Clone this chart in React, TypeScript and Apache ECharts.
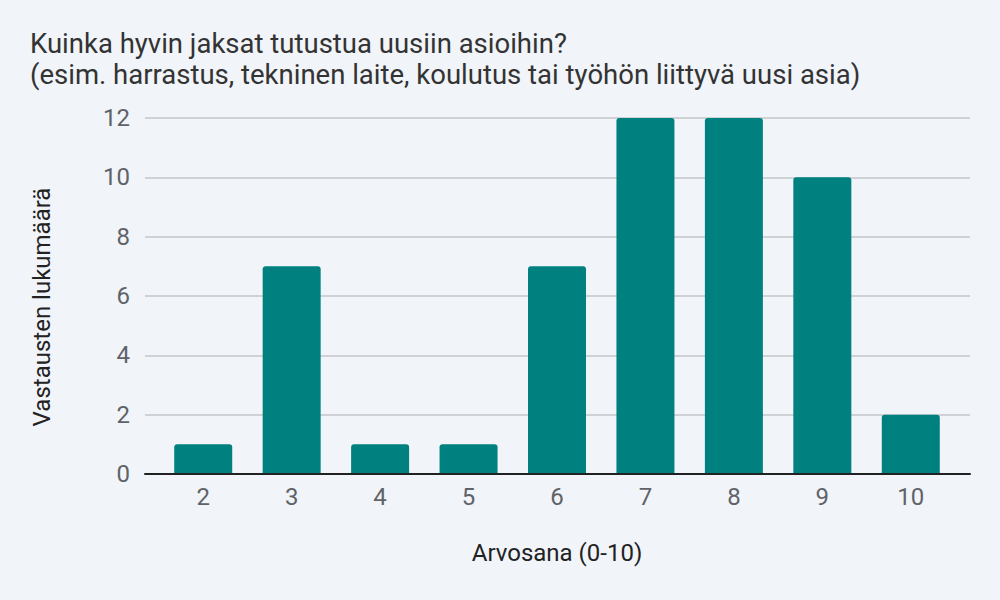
import React, { useEffect, useRef } from "react";
import * as echarts from "echarts";

const categories = ["2", "3", "4", "5", "6", "7", "8", "9", "10"];
const counts = [1, 7, 1, 1, 7, 12, 12, 10, 2];
const titleLines = [
  "Kuinka hyvin jaksat tutustua uusiin asioihin?",
  "(esim. harrastus, tekninen laite, koulutus tai työhön liittyvä uusi asia)",
];
const xName = "Arvosana (0-10)";
const yName = "Vastausten lukumäärä";

export default function App() {
  const ref = useRef<HTMLDivElement>(null);
  useEffect(() => {
    document.body.style.margin = "0";
    const chart = echarts.init(ref.current!, null, { renderer: "svg" });
    const font = "Roboto, 'Noto Sans', sans-serif";
    const titleStyle = {
      fontFamily: font,
      fontSize: 27.5,
      fontWeight: "normal",
      color: "#333333",
      lineHeight: 28,
    };
    chart.setOption({
      animation: false,
      backgroundColor: "#f1f4f9",
      title: {
        text: titleLines[0],
        subtext: titleLines[1],
        itemGap: 2.5,
        left: 25,
        top: 24.5,
        textStyle: titleStyle,
        subtextStyle: titleStyle,
      },
      grid: [
        { left: 145, right: 30, top: 118, bottom: 126 },
        { left: 159, right: 45, top: 118, bottom: 126 },
      ],
      xAxis: [
        {
          type: "category",
          gridIndex: 0,
          data: [""],
          axisTick: { show: false },
          axisLabel: { show: false },
          axisLine: { lineStyle: { color: "#222222", width: 2 } },
          z: 5,
        },
        {
          type: "category",
          gridIndex: 1,
          data: categories,
          name: xName,
          nameLocation: "middle",
          nameGap: 67,
          nameTextStyle: { fontFamily: font, fontSize: 24, color: "#222222" },
          axisTick: { show: false },
          axisLine: { show: false },
          axisLabel: { fontFamily: font, fontSize: 24, color: "#5f6368", margin: 11 },
        },
      ],
      yAxis: [
        {
          type: "value",
          gridIndex: 0,
          min: 0,
          max: 12,
          interval: 2,
          name: yName,
          nameLocation: "middle",
          nameGap: 91,
          nameTextStyle: {
            fontFamily: font,
            fontSize: 24,
            color: "#222222",
            padding: [0, 22, 0, 0],
          },
          axisLabel: { fontFamily: font, fontSize: 24, color: "#5f6368", margin: 15 },
          splitLine: { lineStyle: { color: "#c4c6c9", width: 1.5 } },
          axisLine: { show: false },
          axisTick: { show: false },
        },
        {
          type: "value",
          gridIndex: 1,
          min: 0,
          max: 12,
          interval: 2,
          show: false,
        },
      ],
      series: [
        {
          type: "bar",
          xAxisIndex: 1,
          yAxisIndex: 1,
          data: counts,
          barWidth: 58,
          itemStyle: { color: "#00807f", borderRadius: [3, 3, 0, 0] },
        },
      ],
    });
    return () => chart.dispose();
  }, []);
  return <div ref={ref} style={{ width: 1000, height: 600 }} />;
}
